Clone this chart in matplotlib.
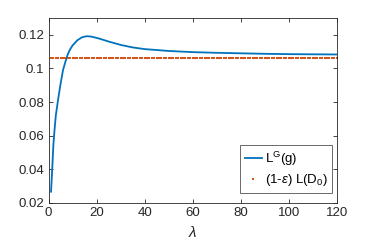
import numpy as np
import matplotlib
matplotlib.use("Agg")
import matplotlib.pyplot as plt

plt.rcParams['font.family'] = ['Liberation Sans', 'DejaVu Sans']
plt.rcParams['mathtext.fontset'] = 'custom'
plt.rcParams['mathtext.rm'] = 'Liberation Sans'
plt.rcParams['mathtext.it'] = 'Liberation Sans:italic'

# blue curve L^G(g)
lam = [1, 1.5, 2, 2.5, 3, 3.5, 4, 5, 6, 7, 8, 9, 10, 12, 14, 16, 18, 21, 25, 30,
       35, 40, 50, 60, 70, 80, 90, 100, 110, 120]
lg = [0.0266, 0.040, 0.055, 0.064, 0.072, 0.077, 0.082, 0.091, 0.099, 0.104, 0.1085,
      0.1115, 0.1137, 0.1168, 0.1186, 0.1192, 0.1189, 0.1178, 0.1160, 0.1140,
      0.1125, 0.1115, 0.1104, 0.1097, 0.1093, 0.1090, 0.1087, 0.1085, 0.1084, 0.1083]

# red dotted level (1-eps) L(D0), one marker per integer lambda
lam_dots = np.arange(1, 121)
level = 0.1065

blue = '#0072BD'
red = '#D95319'
gray = '#262626'

fig = plt.figure(figsize=(3.74, 2.47), dpi=100)
ax = fig.add_axes([0.130, 0.179, 0.770, 0.748])

ax.plot(lam, lg, color=blue, lw=1.3, label=r'L$^{\rm G}$(g)')
ax.plot(lam_dots, np.full(len(lam_dots), level), ls='none', marker='s', ms=1.8,
        mew=0, color=red, label=r'(1-$\epsilon$) L(D$_0$)')

ax.set_xlim(0, 120)
ax.set_ylim(0.02, 0.13)
ax.set_xticks([0, 20, 40, 60, 80, 100, 120])
ax.set_yticks([0.02, 0.04, 0.06, 0.08, 0.1, 0.12])
ax.set_yticklabels(['0.02', '0.04', '0.06', '0.08', '0.1', '0.12'])
ax.tick_params(direction='in', length=3, width=0.6, colors=gray, labelsize=9.5,
               top=True, right=True, pad=3)
for s in ax.spines.values():
    s.set_linewidth(0.6)
    s.set_color(gray)

ax.set_xlabel(r'$\lambda$', fontsize=11, color=gray, labelpad=4)

leg = ax.legend(loc='lower right', fontsize=9.5, frameon=True, fancybox=False,
                edgecolor=gray, handlelength=1.3, handletextpad=0.2,
                borderpad=0.35, labelspacing=0.35, markerscale=0.8,
                borderaxespad=0, bbox_to_anchor=(0.984, 0.053))
leg.get_frame().set_linewidth(0.6)
for t in leg.get_texts():
    t.set_color('black')

fig.savefig('out.png', dpi=100)
